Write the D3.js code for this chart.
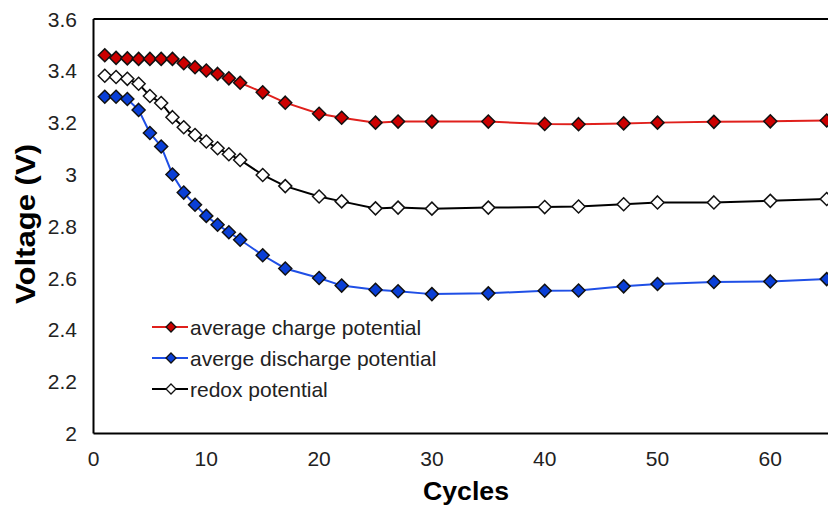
<!DOCTYPE html>
<html>
<head>
<meta charset="utf-8">
<script src="https://cdn.jsdelivr.net/npm/d3@7"></script>
<style>
  html, body { margin: 0; padding: 0; background: #fff; }
  svg { display: block; font-family: Arial, "Liberation Sans", sans-serif; }
</style>
</head>
<body>
<script>
// Data
const cycles = [1, 2, 3, 4, 5, 6, 7, 8, 9, 10, 11, 12, 13, 15, 17, 20, 22, 25, 27, 30, 35, 40, 43, 47, 50, 55, 60, 65];
const chargePotential = [3.46, 3.45, 3.448, 3.446, 3.446, 3.446, 3.446, 3.429, 3.414, 3.401, 3.388, 3.371, 3.354, 3.317, 3.277,
    3.234, 3.219, 3.200, 3.204, 3.204, 3.204, 3.195, 3.194, 3.197, 3.200, 3.203, 3.205, 3.208];
const dischargePotential = [3.30, 3.30, 3.291, 3.249, 3.16, 3.108, 3.0, 2.93, 2.883, 2.84, 2.806, 2.777, 2.748, 2.688, 2.637,
    2.60, 2.571, 2.555, 2.549, 2.538, 2.541, 2.551, 2.552, 2.568, 2.577, 2.585, 2.587, 2.596];
const redoxPotential = [3.381, 3.376, 3.369, 3.35, 3.303, 3.276, 3.221, 3.182, 3.152, 3.127, 3.101, 3.078, 3.056, 2.998, 2.955,
    2.915, 2.896, 2.869, 2.872, 2.868, 2.872, 2.874, 2.876, 2.885, 2.892, 2.892, 2.898, 2.905];
const seriesNames = ['average charge potential', 'averge discharge potential', 'redox potential'];
const xTicks = [0, 10, 20, 30, 40, 50, 60];
const yTicks = [2, 2.2, 2.4, 2.6, 2.8, 3, 3.2, 3.4, 3.6];

const width = 828, height = 511;

const svg = d3.select('body').append('svg')
    .attr('width', width)
    .attr('height', height);

// Scales (the plot runs past the right edge of the picture)
const x = d3.scaleLinear().domain([0, 70]).range([93.5, 883.1]);
const y = d3.scaleLinear().domain([2, 3.6]).range([433.5, 19]);

const series = [
    { name: seriesNames[0], values: chargePotential, line: '#e0201c', fill: '#cc0000' },
    { name: seriesNames[1], values: dischargePotential, line: '#1f4fe6', fill: '#0a3fd6' },
    { name: seriesNames[2], values: redoxPotential, line: '#000000', fill: '#ffffff' }
];

const diamond = r => `M0,${-r}L${r},0L0,${r}L${-r},0Z`;

// Frame: left, top and bottom edges
svg.append('line')
    .attr('x1', x(0)).attr('x2', x(0))
    .attr('y1', y(3.6)).attr('y2', y(2))
    .attr('stroke', '#000').attr('stroke-width', 2);
svg.append('line')
    .attr('x1', x(0)).attr('x2', width)
    .attr('y1', y(2)).attr('y2', y(2))
    .attr('stroke', '#000').attr('stroke-width', 2);
svg.append('line')
    .attr('x1', x(0)).attr('x2', width)
    .attr('y1', y(3.6)).attr('y2', y(3.6))
    .attr('stroke', '#000').attr('stroke-width', 2);

// Tick labels
svg.append('g').selectAll('text')
    .data(xTicks)
    .enter().append('text')
    .attr('x', d => x(d))
    .attr('y', 466)
    .attr('text-anchor', 'middle')
    .attr('font-size', 21)
    .attr('fill', '#222')
    .text(d => d);

svg.append('g').selectAll('text')
    .data(yTicks)
    .enter().append('text')
    .attr('x', 77)
    .attr('y', d => y(d))
    .attr('dy', '0.36em')
    .attr('text-anchor', 'end')
    .attr('font-size', 21)
    .attr('fill', '#222')
    .text(d => d3.format('~g')(d));

// Axis titles
svg.append('text')
    .attr('x', 466)
    .attr('y', 500)
    .attr('text-anchor', 'middle')
    .attr('font-size', 26)
    .attr('font-weight', 'bold')
    .attr('textLength', 86)
    .attr('lengthAdjust', 'spacingAndGlyphs')
    .text('Cycles');

svg.append('text')
    .attr('transform', 'translate(35,224) rotate(-90)')
    .attr('text-anchor', 'middle')
    .attr('font-size', 27)
    .attr('font-weight', 'bold')
    .attr('textLength', 160)
    .attr('lengthAdjust', 'spacingAndGlyphs')
    .text('Voltage (V)');

// Lines and markers
const line = d3.line()
    .x((d, i) => x(cycles[i]))
    .y(d => y(d));

series.forEach(s => {
    svg.append('path')
        .datum(s.values)
        .attr('fill', 'none')
        .attr('stroke', s.line)
        .attr('stroke-width', 2)
        .attr('d', line);

    svg.append('g').selectAll('path')
        .data(s.values)
        .enter().append('path')
        .attr('transform', (d, i) => `translate(${x(cycles[i])},${y(d)})`)
        .attr('d', diamond(6.5))
        .attr('fill', s.fill)
        .attr('stroke', '#111')
        .attr('stroke-width', 1.5);
});

// Legend
const legend = svg.append('g');
const legendY = [327, 358, 389];
series.forEach((s, i) => {
    legend.append('line')
        .attr('x1', 152).attr('x2', 188)
        .attr('y1', legendY[i]).attr('y2', legendY[i])
        .attr('stroke', s.line)
        .attr('stroke-width', 2);
    legend.append('path')
        .attr('transform', `translate(171,${legendY[i]})`)
        .attr('d', diamond(5))
        .attr('fill', s.fill)
        .attr('stroke', '#111')
        .attr('stroke-width', 1.3);
    legend.append('text')
        .attr('x', 190)
        .attr('y', legendY[i])
        .attr('dy', '0.36em')
        .attr('font-size', 21)
        .attr('fill', '#222')
        .text(s.name);
});
</script>
</body>
</html>
